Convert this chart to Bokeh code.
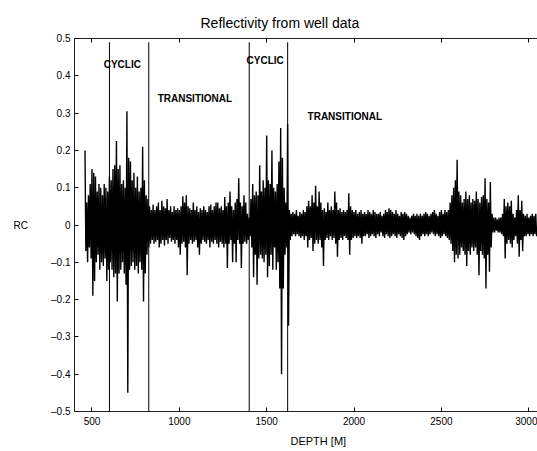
from bokeh.plotting import figure
from bokeh.models import Range1d, LinearAxis, FixedTicker, Label, Title
from bokeh.embed import file_html
from bokeh.resources import INLINE

# ---- data ----
depth_first = 460
depth_step = 10
# positive envelope of reflectivity, one value per 10 m from 460 m
rc_pos = [
    0.20, 0.06, 0.08, 0.11, 0.15, 0.14, 0.13, 0.09, 0.11, 0.10,
    0.08, 0.11, 0.10, 0.09, 0.13, 0.12, 0.15, 0.16, 0.225, 0.15,
    0.16, 0.11, 0.12, 0.10, 0.305, 0.18, 0.17, 0.12, 0.14, 0.10,
    0.13, 0.09, 0.10, 0.21, 0.12, 0.08, 0.07, 0.05, 0.04, 0.055,
    0.04, 0.05, 0.06, 0.04, 0.065, 0.05, 0.045, 0.07, 0.04, 0.05,
    0.035, 0.05, 0.04, 0.045, 0.04, 0.05, 0.077, 0.06, 0.08, 0.05,
    0.045, 0.04, 0.06, 0.04, 0.05, 0.035, 0.045, 0.04, 0.05, 0.04,
    0.035, 0.05, 0.055, 0.04, 0.05, 0.06, 0.06, 0.045, 0.05, 0.04,
    0.075, 0.05, 0.06, 0.09, 0.05, 0.04, 0.06, 0.07, 0.125, 0.06,
    0.05, 0.08, 0.06, 0.03, 0.02, 0.07, 0.11, 0.08, 0.09, 0.08,
    0.16, 0.09, 0.12, 0.10, 0.24, 0.12, 0.11, 0.20, 0.10, 0.09,
    0.11, 0.17, 0.26, 0.18, 0.10, 0.06, 0.27, 0.04, 0.03, 0.035,
    0.03, 0.04, 0.025, 0.035, 0.03, 0.04, 0.035, 0.05, 0.065, 0.05,
    0.08, 0.06, 0.105, 0.05, 0.09, 0.06, 0.04, 0.045, 0.035, 0.06,
    0.04, 0.05, 0.04, 0.09, 0.06, 0.04, 0.045, 0.035, 0.04, 0.035,
    0.04, 0.085, 0.05, 0.04, 0.035, 0.04, 0.03, 0.035, 0.04, 0.03,
    0.035, 0.03, 0.04, 0.035, 0.03, 0.04, 0.035, 0.03, 0.03, 0.035,
    0.025, 0.03, 0.04, 0.035, 0.045, 0.04, 0.035, 0.03, 0.04, 0.03,
    0.025, 0.035, 0.03, 0.035, 0.03, 0.025, 0.02, 0.025, 0.03, 0.025,
    0.03, 0.025, 0.03, 0.025, 0.03, 0.035, 0.03, 0.025, 0.03, 0.035,
    0.04, 0.03, 0.025, 0.035, 0.04, 0.03, 0.04, 0.035, 0.04, 0.06,
    0.08, 0.10, 0.12, 0.175, 0.09, 0.08, 0.06, 0.07, 0.09, 0.07,
    0.08, 0.06, 0.07, 0.065, 0.09, 0.07, 0.06, 0.075, 0.08, 0.125,
    0.07, 0.06, 0.115, 0.03, 0.02, 0.02, 0.015, 0.02, 0.02, 0.03,
    0.07, 0.05, 0.06, 0.05, 0.065, 0.03, 0.02, 0.04, 0.08, 0.04,
    0.065, 0.03, 0.025, 0.03, 0.02, 0.025, 0.03, 0.025, 0.03,
]
# negative envelope, same depths (sampled 5 m later)
rc_neg = [
    -0.07, -0.10, -0.06, -0.09, -0.19, -0.15, -0.10, -0.08, -0.12, -0.10,
    -0.11, -0.09, -0.15, -0.12, -0.10, -0.12, -0.14, -0.13, -0.205, -0.13,
    -0.12, -0.10, -0.13, -0.16, -0.45, -0.12, -0.11, -0.10, -0.12, -0.11,
    -0.13, -0.10, -0.12, -0.205, -0.13, -0.08, -0.06, -0.05, -0.04, -0.05,
    -0.045, -0.04, -0.06, -0.05, -0.04, -0.055, -0.04, -0.05, -0.035, -0.045,
    -0.04, -0.05, -0.04, -0.06, -0.08, -0.05, -0.045, -0.06, -0.135, -0.05,
    -0.04, -0.05, -0.045, -0.04, -0.06, -0.08, -0.05, -0.04, -0.045, -0.05,
    -0.04, -0.06, -0.045, -0.05, -0.04, -0.05, -0.06, -0.045, -0.05, -0.06,
    -0.05, -0.115, -0.05, -0.04, -0.10, -0.05, -0.10, -0.04, -0.05, -0.115,
    -0.05, -0.045, -0.05, -0.04, -0.03, -0.06, -0.14, -0.08, -0.16, -0.09,
    -0.08, -0.09, -0.10, -0.08, -0.14, -0.11, -0.08, -0.12, -0.06, -0.12,
    -0.10, -0.17, -0.40, -0.17, -0.08, -0.06, -0.27, -0.04, -0.03, -0.025,
    -0.03, -0.025, -0.03, -0.035, -0.03, -0.04, -0.03, -0.06, -0.04, -0.035,
    -0.07, -0.05, -0.04, -0.05, -0.04, -0.06, -0.11, -0.04, -0.035, -0.04,
    -0.03, -0.04, -0.035, -0.05, -0.085, -0.04, -0.035, -0.04, -0.03, -0.035,
    -0.04, -0.08, -0.04, -0.035, -0.03, -0.035, -0.03, -0.035, -0.05, -0.03,
    -0.03, -0.025, -0.035, -0.03, -0.025, -0.03, -0.035, -0.025, -0.03, -0.02,
    -0.03, -0.035, -0.025, -0.03, -0.035, -0.03, -0.025, -0.03, -0.035, -0.025,
    -0.03, -0.035, -0.04, -0.03, -0.025, -0.02, -0.025, -0.02, -0.025, -0.03,
    -0.035, -0.04, -0.03, -0.025, -0.03, -0.025, -0.03, -0.025, -0.02, -0.025,
    -0.03, -0.025, -0.03, -0.035, -0.03, -0.025, -0.03, -0.035, -0.04, -0.05,
    -0.07, -0.10, -0.08, -0.09, -0.08, -0.06, -0.07, -0.08, -0.11, -0.07,
    -0.08, -0.06, -0.07, -0.06, -0.08, -0.135, -0.07, -0.08, -0.09, -0.17,
    -0.08, -0.125, -0.06, -0.02, -0.02, -0.015, -0.02, -0.02, -0.025, -0.03,
    -0.09, -0.05, -0.04, -0.05, -0.06, -0.04, -0.03, -0.05, -0.085, -0.04,
    -0.07, -0.03, -0.03, -0.025, -0.03, -0.025, -0.03, -0.025, -0.03,
]
boundaries = [600, 825, 1400, 1620]
zone_names = ["CYCLIC", "TRANSITIONAL", "CYCLIC", "TRANSITIONAL"]
zone_depth = [567, 876, 1385, 1734]
zone_rc = [0.43, 0.34, 0.44, 0.29]
x_ticks = [500, 1000, 1500, 2000, 2500, 3000]
y_ticks = [-0.5, -0.4, -0.3, -0.2, -0.1, 0.0, 0.1, 0.2, 0.3, 0.4, 0.5]
y_tick_labels = ["\u20130.5", "\u20130.4", "\u20130.3", "\u20130.2", "\u20130.1", "0",
                 "0.1", "0.2", "0.3", "0.4", "0.5"]
title_text = "Reflectivity from well data"
x_label = "DEPTH [M]"
y_label = "RC"

# ---- build trace: positive sample at d, negative sample at d + 5 ----
xs, ys = [], []
for i, (a, b) in enumerate(zip(rc_pos, rc_neg)):
    d = depth_first + i * depth_step
    xs += [d, d + depth_step / 2]
    ys += [a, b]

FONT = "Liberation Sans"

p = figure(width=537, height=451, x_range=Range1d(400, 3050), y_range=Range1d(-0.5, 0.5),
           output_backend="svg", toolbar_location=None,
           min_border_left=74, min_border_right=0, min_border_top=38, min_border_bottom=39)
p.outline_line_color = None
p.xgrid.visible = False
p.ygrid.visible = False
p.background_fill_color = "white"
p.border_fill_color = "white"

p.line(xs, ys, line_color="black", line_width=1.4)
p.segment(x0=boundaries, y0=[-0.5] * len(boundaries), x1=boundaries, y1=[0.49] * len(boundaries),
          line_color="black", line_width=1)

for name, d, r in zip(zone_names, zone_depth, zone_rc):
    p.add_layout(Label(x=d, y=r, text=name, text_font=FONT, text_font_size="10px",
                       text_font_style="bold", text_align="left", text_baseline="middle",
                       text_color="black"))

def style_axis(ax):
    ax.axis_line_color = "#222222"
    ax.axis_line_width = 1
    ax.major_tick_in = 4
    ax.major_tick_out = 0
    ax.major_tick_line_color = "black"
    ax.minor_tick_line_color = None
    ax.major_label_text_font = FONT
    ax.major_label_text_font_size = "10px"
    ax.major_label_text_color = "black"

xa = p.xaxis[0]
xa.ticker = FixedTicker(ticks=x_ticks)
style_axis(xa)
xa.major_label_standoff = 5

ya = p.yaxis[0]
ya.ticker = FixedTicker(ticks=y_ticks)
ya.major_label_overrides = {t: l for t, l in zip(y_ticks, y_tick_labels)}
style_axis(ya)
ya.major_label_standoff = 4
ya.axis_label = y_label
ya.axis_label_orientation = "horizontal"
ya.axis_label_text_font = FONT
ya.axis_label_text_font_size = "10px"
ya.axis_label_text_font_style = "normal"
ya.axis_label_text_color = "black"
ya.axis_label_standoff = 20

top = LinearAxis(ticker=FixedTicker(ticks=x_ticks))
style_axis(top)
top.major_label_text_color = None
top.major_label_text_font_size = "1px"
top.major_label_standoff = 0
p.add_layout(top, "above")

p.title.text = title_text
p.title.align = "left"
p.title.offset = 126
p.title.standoff = 16
p.title.text_font = FONT
p.title.text_font_size = "14px"
p.title.text_font_style = "normal"
p.title.text_color = "black"

p.add_layout(Title(text=x_label, align="left", offset=216, text_font=FONT,
                   text_font_size="11px", text_font_style="normal", text_color="black"), "below")

open("out.html", "w").write(file_html(p, INLINE))
